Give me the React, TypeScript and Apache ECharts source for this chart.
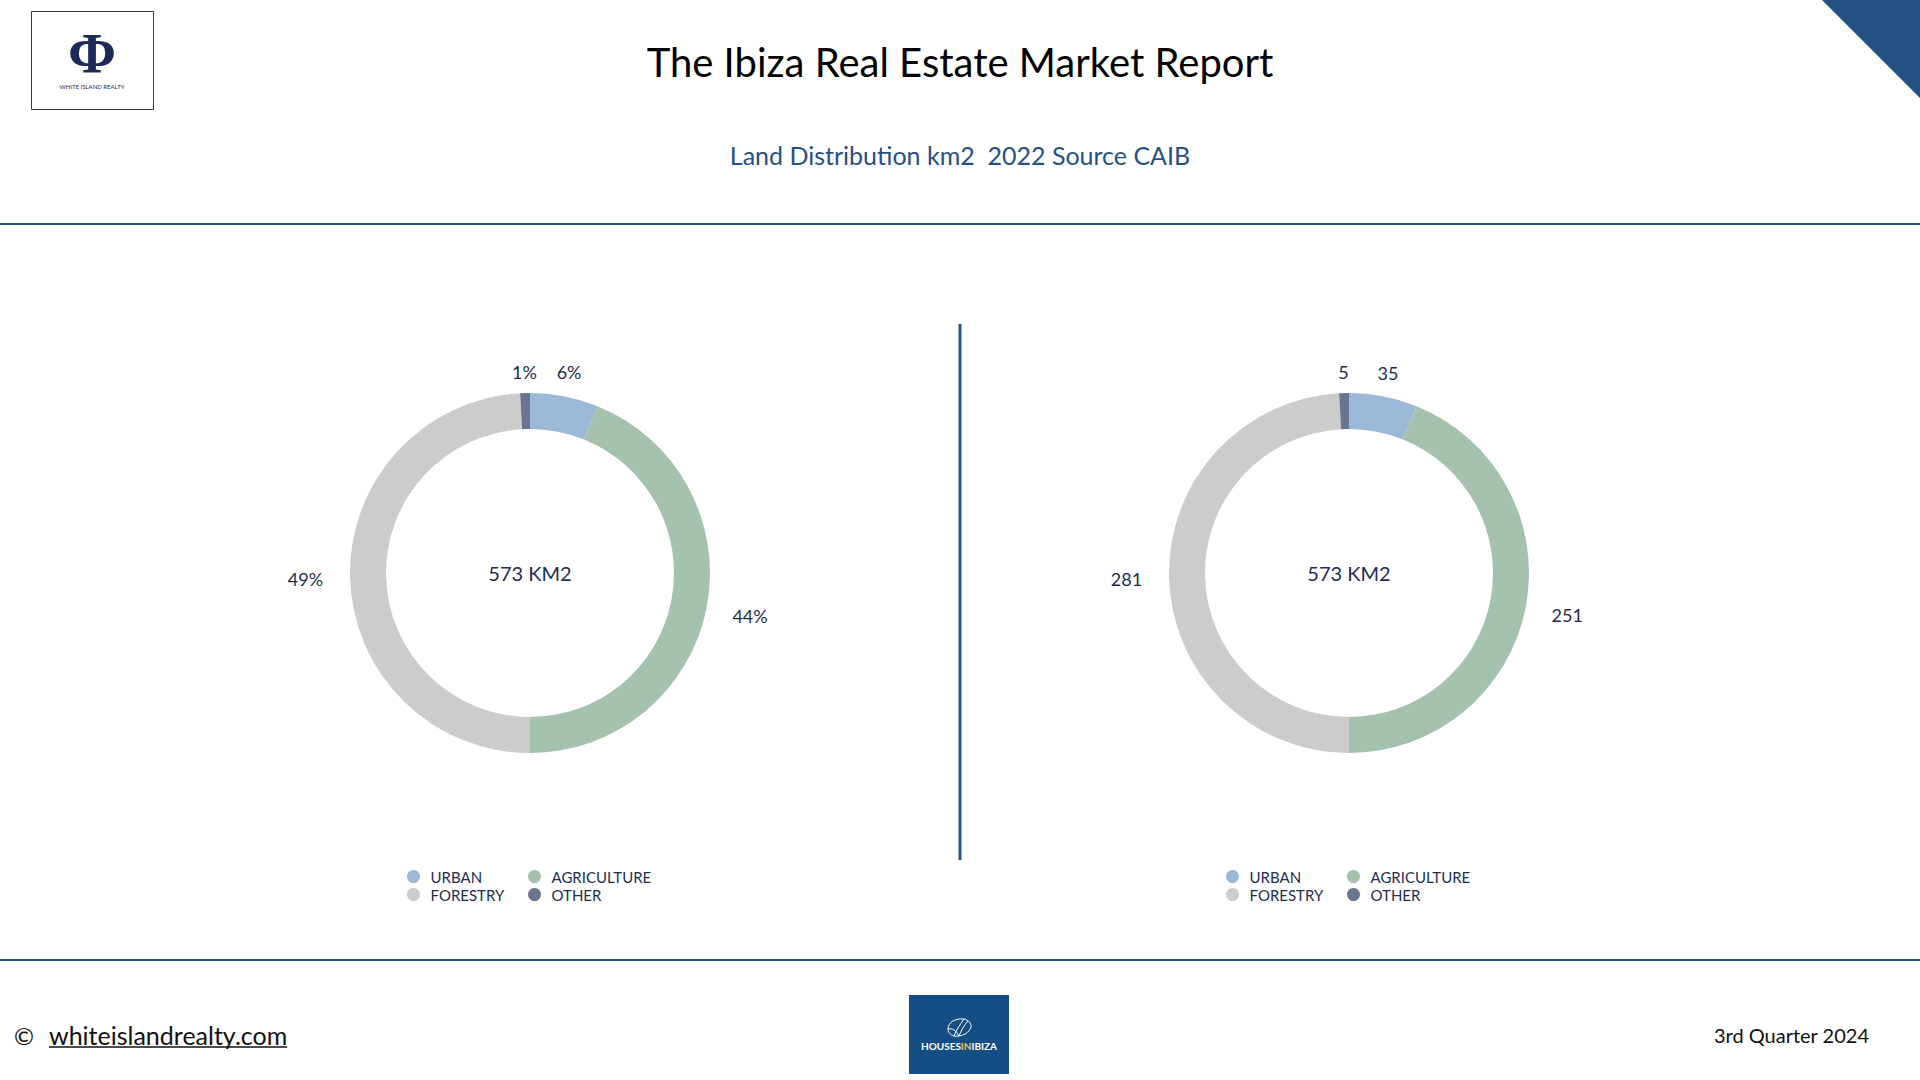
import React, { useEffect, useRef } from "react";
import * as echarts from "echarts";

const categories = ["URBAN", "AGRICULTURE", "FORESTRY", "OTHER"];
const areaKm2 = [35, 251, 281, 5];
const totalLabel = "573 KM2";
const colors = ["#9cb8d7", "#a4c2ad", "#cccccc", "#69758f"];
const legendColumns = [["URBAN", "FORESTRY"], ["AGRICULTURE", "OTHER"]];

const TITLE = "The Ibiza Real Estate Market Report";
const SUBTITLE = "Land Distribution km2  2022 Source CAIB";
const FOOTER_URL = "whiteislandrealty.com";
const FOOTER_RIGHT = "3rd Quarter 2024";

const FONT = "Lato";
const NAVY = "#1e2e4f";
const LINE_BLUE = "#2d5284";
const INNER_R = 144;
const OUTER_R = 180;
const LABEL_GAP = 21;
const CY = 573;
const CX_LEFT = 530;
const CX_RIGHT = 1349;

function makeLabelLayout(values: number[], cx: number, cy: number) {
  const total = values.reduce((a, b) => a + b, 0);
  return (p: any) => {
    let before = 0;
    for (let i = 0; i < p.dataIndex; i++) before += values[i];
    const mid = ((before + values[p.dataIndex] / 2) / total) * Math.PI * 2;
    const dx = Math.sin(mid);
    const dy = -Math.cos(mid);
    const hw = p.labelRect.width / 2;
    const r = OUTER_R + LABEL_GAP + Math.abs(dx) * (hw + 6);
    return { x: cx + dx * r, y: cy + dy * r, align: "center", verticalAlign: "middle" };
  };
}

function pieSeries(cx: number, formatter: any) {
  return {
    type: "pie",
    center: [cx, CY],
    radius: [INNER_R, OUTER_R],
    startAngle: 90,
    clockwise: true,
    avoidLabelOverlap: false,
    data: categories.map((name, i) => ({
      name,
      value: areaKm2[i],
      itemStyle: { color: colors[i] },
    })),
    label: {
      show: true,
      position: "outside",
      formatter,
      color: NAVY,
      fontFamily: FONT,
      fontSize: 18,
    },
    labelLine: { show: false },
    labelLayout: makeLabelLayout(areaKm2, cx, CY),
    emphasis: { disabled: true },
  };
}

function legendAt(left: number, data: string[]) {
  return {
    orient: "vertical",
    left,
    top: 864,
    itemGap: 3,
    itemWidth: 24,
    itemHeight: 13,
    icon: "circle",
    data,
    textStyle: { color: NAVY, fontFamily: FONT, fontSize: 15 },
  };
}

const SHELL_D =
  "M2 11 C2 4 10 0 18 1 C23 2 27 7 24 11 C22 16 14 19 8 18 C4 17 2 14 2 11 Z M8 18 C10 12 14 7 18 1 M13 18 C15 13 18 7 22 3 M2 11 C6 10 10 12 13 18";

export default function App() {
  const ref = useRef<HTMLDivElement>(null);
  useEffect(() => {
    if (!ref.current) return;
    try {
      echarts.graphic.registerShape("shell", echarts.graphic.extendPath(SHELL_D, {}));
    } catch (e) {}
    let urlWidth = 240;
    try {
      const ctx = document.createElement("canvas").getContext("2d");
      if (ctx) {
        ctx.font = "25px Lato";
        urlWidth = ctx.measureText(FOOTER_URL).width;
      }
    } catch (e) {}
    const chart = echarts.init(ref.current, null, { renderer: "svg" });
    chart.setOption({
      animation: false,
      backgroundColor: "#ffffff",
      legend: [
        legendAt(402, legendColumns[0]),
        legendAt(523, legendColumns[1]),
        legendAt(402 + (CX_RIGHT - CX_LEFT), legendColumns[0]),
        legendAt(523 + (CX_RIGHT - CX_LEFT), legendColumns[1]),
      ],
      series: [
        pieSeries(CX_LEFT, (p: any) => Math.round(p.percent) + "%"),
        pieSeries(CX_RIGHT, (p: any) => String(p.value)),
      ],
      graphic: [
        { type: "rect", shape: { x: 31.5, y: 11.5, width: 122, height: 98 }, style: { fill: "#fff", stroke: "#3a3a3a", lineWidth: 1 } },
        { type: "text", x: 92, y: 53, style: { text: "Φ", fill: "#1b2a58", font: "bold 58px 'Liberation Serif'", lineHeight: 44, align: "center", verticalAlign: "middle" } },
        { type: "text", x: 92, y: 86, style: { text: "WHITE ISLAND REALTY", fill: "#1b2a58", font: "6px Lato", lineHeight: 7, align: "center", verticalAlign: "middle" } },
        { type: "polygon", shape: { points: [[1822, 0], [1920, 0], [1920, 98]] }, style: { fill: "#235182" } },
        { type: "text", x: 960, y: 62, style: { text: TITLE, fill: "#000", font: "40px Lato", align: "center", verticalAlign: "middle" } },
        { type: "text", x: 960, y: 155, style: { text: SUBTITLE, fill: "#265087", font: "25px Lato", align: "center", verticalAlign: "middle" } },
        { type: "line", shape: { x1: 0, y1: 224, x2: 1920, y2: 224 }, style: { stroke: LINE_BLUE, lineWidth: 2 } },
        { type: "line", shape: { x1: 0, y1: 960, x2: 1920, y2: 960 }, style: { stroke: LINE_BLUE, lineWidth: 2 } },
        { type: "line", shape: { x1: 960, y1: 324, x2: 960, y2: 860 }, style: { stroke: LINE_BLUE, lineWidth: 3 } },
        { type: "text", x: CX_LEFT, y: CY, style: { text: totalLabel, fill: NAVY, font: "20px Lato", align: "center", verticalAlign: "middle" } },
        { type: "text", x: CX_RIGHT, y: CY, style: { text: totalLabel, fill: NAVY, font: "20px Lato", align: "center", verticalAlign: "middle" } },
        { type: "text", x: 14, y: 1035, style: { text: "©", fill: "#111", font: "24px Lato", align: "left", verticalAlign: "middle" } },
        { type: "text", x: 49, y: 1035, style: { text: FOOTER_URL, fill: "#111", font: "25px Lato", align: "left", verticalAlign: "middle" } },
        { type: "line", shape: { x1: 49, y1: 1047, x2: 49 + urlWidth, y2: 1047 }, style: { stroke: "#111", lineWidth: 1.5 } },
        { type: "rect", shape: { x: 909, y: 995, width: 100, height: 79 }, style: { fill: "#154e85" } },
        { type: "shell", x: 946, y: 1018, scaleX: 1, scaleY: 1, style: { fill: "none", stroke: "#ffffff", lineWidth: 1 } },
        {
          type: "text",
          x: 959,
          y: 1046,
          style: {
            text: "{a|HOUSES}{b|IN}{a|IBIZA}",
            align: "center",
            verticalAlign: "middle",
            rich: {
              a: { fill: "#ffffff", font: "bold 10px Lato" },
              b: { fill: "#e3c46a", font: "bold 10px Lato" },
            },
          },
        },
        { type: "text", x: 1869, y: 1035, style: { text: FOOTER_RIGHT, fill: "#111", font: "20px Lato", align: "right", verticalAlign: "middle" } },
      ],
    });
    return () => chart.dispose();
  }, []);
  return <div ref={ref} style={{ position: "absolute", left: 0, top: 0, width: 1920, height: 1080 }} />;
}
